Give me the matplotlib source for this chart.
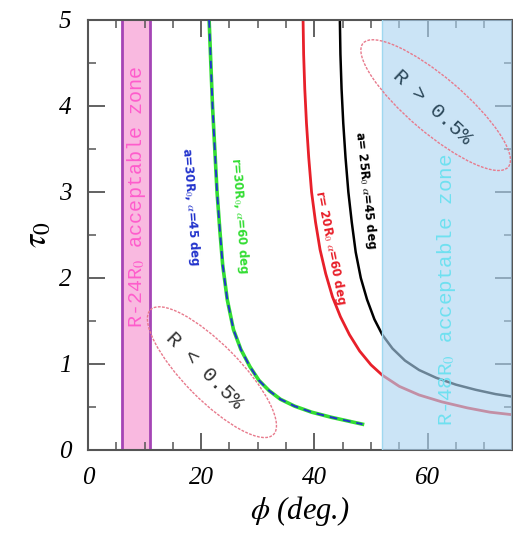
import matplotlib
matplotlib.use("Agg")
import matplotlib.pyplot as plt
from matplotlib.patches import Ellipse
from matplotlib.ticker import MultipleLocator
import numpy as np

# curve data (phi in deg, tau0)
phi_a30 = [21.4, 21.7, 22.0, 22.4, 22.8, 23.3, 23.8, 24.6, 25.7, 27.0, 28.6, 30.2,
           32.0, 34.0, 36.5, 39.5, 43.0, 48.5]
tau_a30 = [5.0, 4.5, 4.0, 3.5, 3.0, 2.55, 2.15, 1.75, 1.40, 1.17, 0.97, 0.81,
           0.69, 0.59, 0.51, 0.44, 0.38, 0.3]

phi_r20 = [38.0, 38.1, 38.3, 38.6, 39.0, 39.5, 40.2, 41.0, 42.0, 43.2, 44.6, 46.2,
           48.0, 50.0, 52.0, 55.0, 58.5, 62.5, 67.0, 71.0, 75.0]
tau_r20 = [5.0, 4.6, 4.2, 3.8, 3.4, 3.0, 2.65, 2.33, 2.05, 1.78, 1.55, 1.34,
           1.15, 0.99, 0.87, 0.74, 0.64, 0.56, 0.49, 0.44, 0.41]

phi_a25 = [44.5, 44.6, 44.8, 45.1, 45.5, 46.0, 46.6, 47.3, 48.2, 49.3, 50.6, 52.0,
           53.8, 56.0, 58.5, 61.5, 65.0, 68.5, 72.0, 75.0]
tau_a25 = [5.0, 4.6, 4.2, 3.8, 3.4, 3.0, 2.65, 2.3, 2.0, 1.75, 1.52, 1.34,
           1.18, 1.04, 0.93, 0.84, 0.76, 0.70, 0.65, 0.62]

pink_zone = (6.0, 11.0)
blue_zone = (52.0, 75.0)

plt.rcParams['mathtext.fontset'] = 'stix'
serif = ['Liberation Serif', 'DejaVu Serif']
mono = ['Liberation Mono', 'DejaVu Sans Mono']

fig = plt.figure(figsize=(5.13, 5.44), dpi=100)
ax = fig.add_axes([88/513, 94/544, 1 - 88/513 - 0.001, 430/544])

ax.axvspan(*pink_zone, color='#f9b9e0', lw=0, zorder=0)
for xv in pink_zone:
    ax.axvline(xv, color='#a545b5', lw=2, zorder=1)

# curves
ax.plot(phi_a30, tau_a30, color='#33dd33', lw=2.6, zorder=2)
ax.plot(phi_a30, tau_a30, color='#2233cc', lw=1.4, dashes=(4, 3), zorder=3)
ax.plot(phi_r20, tau_r20, color='#e8202a', lw=2.0, zorder=2)
ax.plot(phi_a25, tau_a25, color='black', lw=1.8, zorder=2)

# right hand zone drawn over the curves
ax.axvspan(*blue_zone, color='#acd4f2', alpha=0.62, lw=0, zorder=4)
ax.axvline(blue_zone[0], color='#9fd8f0', lw=1.0, zorder=4)

# curve labels
ax.text(18.2, 2.83, r'a=30R$_0$, $\alpha$=45 deg', color='#2233cc', fontsize=8.5,
        rotation=-86, ha='center', va='center', fontweight='bold', zorder=5)
ax.text(26.8, 2.73, r'r=30R$_0$, $\alpha$=60 deg', color='#33dd33', fontsize=8.5,
        rotation=-86, ha='center', va='center', fontweight='bold', zorder=5)
ax.text(42.9, 2.35, r'r= 20R$_0$ $\alpha$=60 deg', color='#e8202a', fontsize=8.5,
        rotation=-79, ha='center', va='center', fontweight='bold', zorder=5)
ax.text(49.1, 3.02, r'a= 25R$_0$ $\alpha$=45 deg', color='black', fontsize=8.5,
        rotation=-84, ha='center', va='center', fontweight='bold', zorder=5)

# zone labels
ax.text(8.5, 2.95, r'R-24R$_0$ acceptable zone', color='#ff5ccc', family=mono,
        fontsize=14.5, rotation=90, ha='center', va='center', zorder=5)
ax.text(63.3, 1.86, r'R-48R$_0$ acceptable zone', color='#6fe0f0', family=mono,
        fontsize=15, rotation=90, ha='center', va='center', zorder=5)

# ellipses (axes coords, the axes box is nearly square)
ax.add_patch(Ellipse((0.292, 0.181), 0.41, 0.13, angle=-45, transform=ax.transAxes,
                     fill=False, ec='#e87a8c', lw=1, ls=(0, (2, 1)), zorder=5))
ax.add_patch(Ellipse((0.819, 0.802), 0.447, 0.13, angle=-40, transform=ax.transAxes,
                     fill=False, ec='#e87a8c', lw=1, ls=(0, (2, 1)), zorder=5))
ax.text(0.275, 0.185, 'R < 0.5%', transform=ax.transAxes, family=mono, fontsize=15,
        color='#333333', rotation=-45, ha='center', va='center', zorder=6)
ax.text(0.812, 0.797, 'R > 0.5%', transform=ax.transAxes, family=mono, fontsize=15,
        color='#2a4658', rotation=-43, ha='center', va='center', zorder=6)

ax.set_xlim(0, 75)
ax.set_ylim(0, 5)
ax.xaxis.set_major_locator(MultipleLocator(20))
ax.xaxis.set_minor_locator(MultipleLocator(5))
ax.yaxis.set_major_locator(MultipleLocator(1))
ax.yaxis.set_minor_locator(MultipleLocator(0.5))
ax.tick_params(which='both', direction='in', top=True, right=True, color='#555555')
ax.tick_params(which='major', length=12, width=1.3)
ax.tick_params(which='minor', length=6, width=1.1)
ax.tick_params(axis='x', pad=12)
ax.tick_params(axis='y', pad=12)
for sp in ax.spines.values():
    sp.set_color('#555555')
    sp.set_linewidth(1.5)
for lab in ax.get_xticklabels() + ax.get_yticklabels():
    lab.set_family(serif)
    lab.set_style('italic')
    lab.set_fontsize(18)

ax.set_xlabel(r'$\phi$ (deg.)', family=serif, style='italic', fontsize=22, labelpad=4)
ax.set_ylabel(r'$\tau_0$', fontsize=24, labelpad=4)

fig.savefig('out.png', dpi=100)
